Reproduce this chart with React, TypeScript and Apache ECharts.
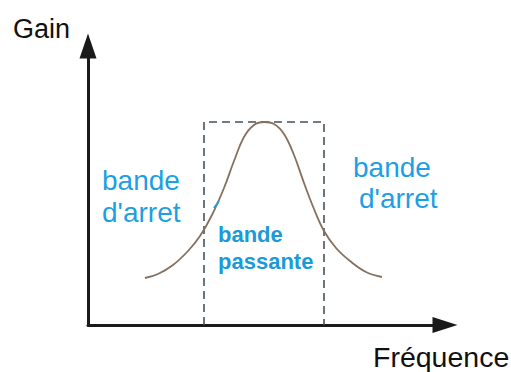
import React, { useEffect, useRef } from "react";
import * as echarts from "echarts";

// Frequency response (arbitrary units)
const curveFreq = [57, 70, 85, 100, 112, 124, 136, 146, 156, 166, 176, 186, 196, 206, 216, 226, 236, 248, 262, 278, 294];
const curveGain = [47, 51, 60, 74, 89, 110, 137, 164, 188, 200, 203, 201, 191, 170, 142, 116, 94, 77, 64, 53, 48];

// Passband limits and level
const passband = [116, 236];
const passLevel = 203;

const xMax = 357;
const yMax = 279;

const axisLabels = { y: "Gain", x: "Fréquence" };
const stopLabel = ["bande", "d'arret"];
const passLabel = ["bande", "passante"];

const BLUE = "#1e9fe3";
const FONT = "'Liberation Sans', Arial, sans-serif";

export default function App() {
  const ref = useRef<HTMLDivElement>(null);
  useEffect(() => {
    if (!ref.current) return;
    const chart = echarts.init(ref.current, undefined, { renderer: "svg" });
    const curve = curveFreq.map((f, i) => [f, curveGain[i]]);
    const rect = [
      [passband[0], 0],
      [passband[0], passLevel],
      [passband[1], passLevel],
      [passband[1], 0],
    ];
    const txt = (text: string, x: number, y: number, size: number, color: string, bold = false) => ({
      type: "text",
      x,
      y,
      style: {
        text,
        fill: color,
        font: `${bold ? "bold " : ""}${size}px ${FONT}`,
        verticalAlign: "middle",
        align: "left",
      },
      z: 10,
    });
    chart.setOption({
      animation: false,
      backgroundColor: "#ffffff",
      grid: { left: 88, right: 66, top: 46, bottom: 47, containLabel: false },
      xAxis: {
        type: "value",
        min: 0,
        max: xMax,
        axisLine: {
          show: true,
          symbol: ["none", "triangle"],
          symbolSize: [16, 25],
          lineStyle: { color: "#1a1a1a", width: 3 },
        },
        axisTick: { show: false },
        axisLabel: { show: false },
        splitLine: { show: false },
      },
      yAxis: {
        type: "value",
        min: 0,
        max: yMax,
        axisLine: {
          show: true,
          symbol: ["none", "triangle"],
          symbolSize: [17, 25],
          lineStyle: { color: "#1a1a1a", width: 3 },
        },
        axisTick: { show: false },
        axisLabel: { show: false },
        splitLine: { show: false },
      },
      series: [
        {
          type: "line",
          data: rect,
          symbol: "none",
          lineStyle: { color: "#44525c", width: 1.6, type: [8, 5] },
          z: 2,
        },
        {
          type: "line",
          data: curve,
          smooth: 0.4,
          symbol: "none",
          lineStyle: { color: "#85705f", width: 1.8 },
          z: 3,
        },
      ],
      graphic: [
        txt(axisLabels.y, 13, 28.6, 27, "#111111"),
        txt(axisLabels.x, 373, 357, 28.5, "#111111"),
        txt(stopLabel[0], 102, 180, 28, BLUE),
        txt(stopLabel[1], 102, 212, 28, BLUE),
        txt(stopLabel[0], 353, 167, 28, BLUE),
        txt(stopLabel[1], 359, 198.5, 28, BLUE),
        txt(passLabel[0], 218, 234.5, 22, "#1a9ad8", true),
        txt(passLabel[1], 218, 261.5, 22, "#1a9ad8", true),
        {
          type: "line",
          shape: { x1: 214, y1: 208, x2: 219, y2: 201 },
          style: { stroke: BLUE, lineWidth: 2 },
          z: 10,
        },
      ],
    });
    return () => chart.dispose();
  }, []);
  return <div ref={ref} style={{ width: 511, height: 372, position: "absolute", left: 0, top: 0 }} />;
}
